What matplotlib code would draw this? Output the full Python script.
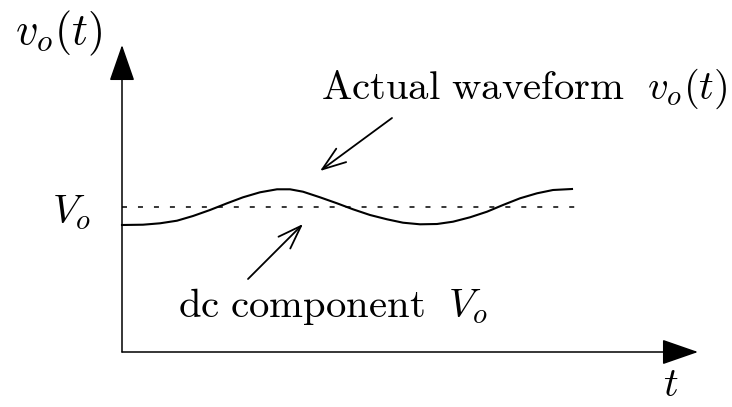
"""
Sketch of the output voltage v_o(t): the actual waveform wiggles
around its dc component V_o.
"""

import matplotlib
matplotlib.use('Agg')
import matplotlib.pyplot as plt

plt.rcParams['mathtext.fontset'] = 'cm'
plt.rcParams['lines.scale_dashes'] = False

# actual waveform samples (t, v_o)
wave_t = [0, 21, 38, 55, 71, 88, 105, 121, 138, 155, 168, 181, 198, 215,
          231, 248, 265, 281, 298, 315, 331, 348, 365, 381, 398, 415, 431, 450]
wave_v = [127.0, 127.3, 128.7, 131.3, 136.0, 142.0, 148.7, 154.7, 159.7,
          162.7, 162.7, 160.3, 154.7, 148.7, 142.7, 137.0, 132.7, 129.3,
          127.7, 128.0, 130.3, 134.7, 140.3, 147.0, 153.7, 158.7, 162.0, 163.0]

# dc level and the span it is drawn over
dc_level = 145
dc_t = [0, 456]

t_axis_end = 576
v_axis_end = 307


def draw_waveform(ax):
    black = 'black'
    # axes with filled arrow heads
    axis_style = dict(arrowstyle='-|>,head_length=1.15,head_width=0.4',
                      mutation_scale=20, lw=1.1, color=black, fc=black,
                      shrinkA=0, shrinkB=0)
    ax.annotate('', xy=(0, v_axis_end), xytext=(0, 0), arrowprops=axis_style)
    ax.annotate('', xy=(t_axis_end, 0), xytext=(0, 0), arrowprops=axis_style)

    ax.plot(dc_t, [dc_level, dc_level], color=black, lw=1.1,
            dashes=(3.6, 7.9))
    ax.plot(wave_t, wave_v, color=black, lw=1.5, solid_joinstyle='round')

    # pointer arrows with open heads
    ptr = dict(arrowstyle='->,head_length=0.85,head_width=0.3',
               mutation_scale=20, lw=1.3, color=black,
               shrinkA=0, shrinkB=0)
    ax.annotate('', xy=(198, 181), xytext=(270, 234), arrowprops=ptr)
    ax.annotate('', xy=(181, 128), xytext=(126, 73), arrowprops=ptr)

    ax.text(-107, 308, r'$v_o(t)$', fontsize=31.8, ha='left', va='baseline')
    ax.text(-70, 129, r'$V_o$', fontsize=29.3, ha='left', va='baseline')
    ax.text(541, -44, r'$t$', fontsize=29.3, ha='left', va='baseline')
    ax.text(199, 253, r'$\mathrm{Actual\ waveform}\ \ v_o(t)$',
            fontsize=29.3, ha='left', va='baseline')
    ax.text(56, 35, r'$\mathrm{dc\ component}\ \ V_o$',
            fontsize=29.3, ha='left', va='baseline')


def main():
    fig = plt.figure(figsize=(7.32, 4.07), dpi=100)
    ax = fig.add_axes([0, 0, 1, 1])
    ax.set_xlim(-122, 610)
    ax.set_ylim(-55, 352)
    ax.axis('off')
    draw_waveform(ax)
    fig.savefig('out.png', dpi=100)


if __name__ == '__main__':
    main()
